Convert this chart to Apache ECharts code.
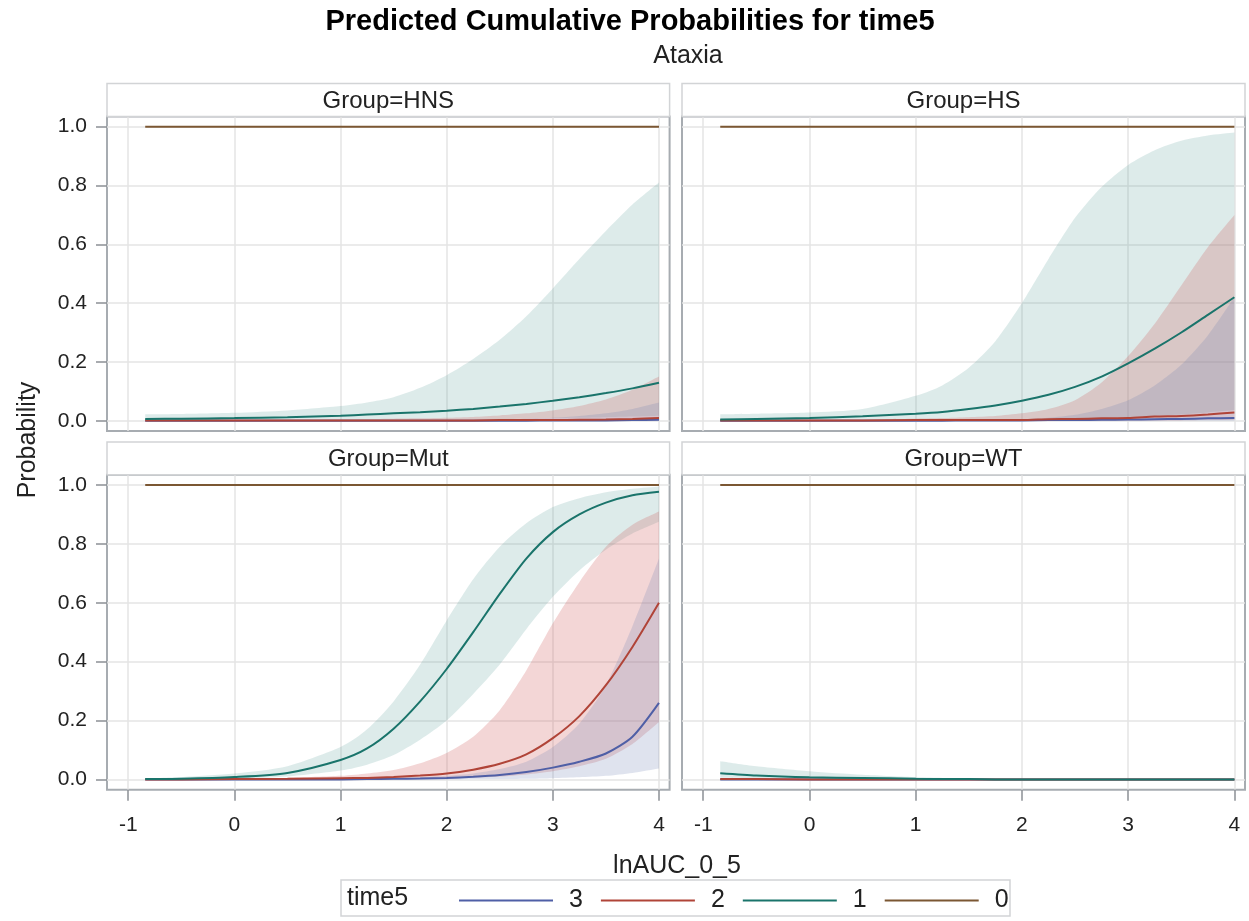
<!DOCTYPE html>
<html>
<head>
<meta charset="utf-8">
<script src="https://cdn.jsdelivr.net/npm/echarts@6/dist/echarts.min.js"></script>
<style>
  html, body { margin: 0; padding: 0; background: #fff; }
  #chart { width: 1249px; height: 921px; }
</style>
</head>
<body>
<div id="chart"></div>
<script>
// lnAUC_0_5 values at which the predicted cumulative probabilities are given
const xValues = [-0.84, -0.5, 0, 0.5, 1, 1.25, 1.5, 1.75, 2, 2.25, 2.5, 2.75, 3, 3.25, 3.5, 3.75, 4];

// time5 >= 0 is certain
const level0 = [1, 1, 1, 1, 1, 1, 1, 1, 1, 1, 1, 1, 1, 1, 1, 1, 1];

// Group=HNS
const hnsP1  = [0.006, 0.007, 0.009, 0.012, 0.017, 0.021, 0.025, 0.029, 0.034, 0.040, 0.048, 0.057, 0.068, 0.080, 0.094, 0.110, 0.129];
const hnsLo1 = [0.001, 0.001, 0.001, 0.002, 0.002, 0.002, 0.003, 0.003, 0.004, 0.005, 0.006, 0.007, 0.009, 0.010, 0.012, 0.014, 0.017];
const hnsHi1 = [0.022, 0.023, 0.027, 0.035, 0.050, 0.062, 0.080, 0.112, 0.155, 0.210, 0.275, 0.355, 0.450, 0.550, 0.645, 0.735, 0.810];
const hnsP2  = [0.001, 0.001, 0.001, 0.001, 0.001, 0.001, 0.001, 0.001, 0.001, 0.001, 0.002, 0.002, 0.002, 0.003, 0.004, 0.006, 0.009];
const hnsLo2 = [0, 0, 0, 0, 0, 0, 0, 0, 0, 0, 0, 0, 0, 0, 0, 0.001, 0.001];
const hnsHi2 = [0.003, 0.003, 0.003, 0.004, 0.005, 0.006, 0.007, 0.008, 0.010, 0.013, 0.018, 0.025, 0.035, 0.050, 0.072, 0.105, 0.150];
const hnsP3  = [0, 0, 0, 0, 0, 0, 0, 0, 0, 0, 0, 0, 0.001, 0.001, 0.001, 0.002, 0.003];
const hnsLo3 = [0, 0, 0, 0, 0, 0, 0, 0, 0, 0, 0, 0, 0, 0, 0, 0, 0];
const hnsHi3 = [0.001, 0.001, 0.001, 0.001, 0.001, 0.001, 0.002, 0.002, 0.003, 0.004, 0.005, 0.007, 0.010, 0.016, 0.025, 0.040, 0.062];

// Group=HS
const hsP1  = [0.004, 0.006, 0.009, 0.015, 0.024, 0.030, 0.040, 0.052, 0.068, 0.088, 0.115, 0.150, 0.195, 0.245, 0.300, 0.360, 0.420];
const hsLo1 = [0.001, 0.001, 0.001, 0.001, 0.002, 0.002, 0.003, 0.003, 0.004, 0.005, 0.007, 0.009, 0.012, 0.016, 0.021, 0.028, 0.036];
const hsHi1 = [0.022, 0.024, 0.028, 0.040, 0.085, 0.120, 0.180, 0.270, 0.400, 0.550, 0.690, 0.795, 0.870, 0.920, 0.952, 0.970, 0.980];
const hsP2  = [0.001, 0.001, 0.001, 0.001, 0.002, 0.002, 0.002, 0.002, 0.002, 0.005, 0.006, 0.008, 0.009, 0.014, 0.016, 0.021, 0.028];
const hsLo2 = [0, 0, 0, 0, 0, 0, 0, 0, 0, 0, 0, 0.001, 0.001, 0.001, 0.001, 0.002, 0.002];
const hsHi2 = [0.003, 0.003, 0.004, 0.005, 0.007, 0.009, 0.012, 0.016, 0.025, 0.040, 0.070, 0.130, 0.220, 0.330, 0.460, 0.590, 0.700];
const hsP3  = [0, 0, 0, 0, 0, 0, 0.001, 0.001, 0.001, 0.002, 0.002, 0.003, 0.004, 0.005, 0.006, 0.008, 0.009];
const hsLo3 = [0, 0, 0, 0, 0, 0, 0, 0, 0, 0, 0, 0, 0, 0, 0, 0, 0];
const hsHi3 = [0.001, 0.001, 0.001, 0.002, 0.002, 0.002, 0.003, 0.004, 0.005, 0.010, 0.020, 0.040, 0.070, 0.120, 0.190, 0.290, 0.420];

// Group=Mut
const mutP1  = [0.001, 0.002, 0.008, 0.022, 0.066, 0.105, 0.172, 0.265, 0.375, 0.500, 0.630, 0.750, 0.840, 0.900, 0.940, 0.965, 0.977];
const mutLo1 = [0, 0.001, 0.003, 0.010, 0.030, 0.050, 0.083, 0.135, 0.200, 0.290, 0.390, 0.510, 0.620, 0.710, 0.780, 0.835, 0.875];
const mutHi1 = [0.003, 0.008, 0.020, 0.045, 0.110, 0.170, 0.265, 0.390, 0.540, 0.680, 0.790, 0.870, 0.925, 0.955, 0.975, 0.987, 0.995];
const mutP2  = [0, 0, 0.001, 0.002, 0.004, 0.005, 0.008, 0.013, 0.020, 0.033, 0.053, 0.085, 0.140, 0.215, 0.320, 0.450, 0.600];
const mutLo2 = [0, 0, 0, 0, 0.001, 0.001, 0.001, 0.002, 0.004, 0.006, 0.010, 0.017, 0.028, 0.045, 0.070, 0.120, 0.195];
const mutHi2 = [0, 0.001, 0.002, 0.005, 0.012, 0.020, 0.032, 0.055, 0.090, 0.145, 0.235, 0.370, 0.530, 0.670, 0.790, 0.865, 0.910];
const mutP3  = [0, 0, 0, 0, 0, 0.001, 0.002, 0.003, 0.005, 0.009, 0.015, 0.025, 0.040, 0.060, 0.088, 0.145, 0.260];
const mutLo3 = [0, 0, 0, 0, 0, 0, 0, 0, 0, 0.001, 0.001, 0.002, 0.004, 0.007, 0.012, 0.022, 0.037];
const mutHi3 = [0, 0, 0, 0.001, 0.001, 0.002, 0.004, 0.007, 0.012, 0.020, 0.035, 0.060, 0.110, 0.190, 0.320, 0.520, 0.750];

// Group=WT
const wtP1  = [0.021, 0.013, 0.007, 0.005, 0.002, 0.001, 0.001, 0, 0, 0, 0, 0, 0, 0, 0, 0, 0];
const wtLo1 = [0.006, 0.004, 0.002, 0.001, 0, 0, 0, 0, 0, 0, 0, 0, 0, 0, 0, 0, 0];
const wtHi1 = [0.062, 0.045, 0.028, 0.016, 0.008, 0.005, 0.003, 0.002, 0.001, 0.001, 0, 0, 0, 0, 0, 0, 0];
const wtP2  = [0.001, 0.001, 0, 0, 0, 0, 0, 0, 0, 0, 0, 0, 0, 0, 0, 0, 0];
const wtLo2 = [0, 0, 0, 0, 0, 0, 0, 0, 0, 0, 0, 0, 0, 0, 0, 0, 0];
const wtHi2 = [0.004, 0.003, 0.002, 0.001, 0, 0, 0, 0, 0, 0, 0, 0, 0, 0, 0, 0, 0];
const wtP3  = [0, 0, 0, 0, 0, 0, 0, 0, 0, 0, 0, 0, 0, 0, 0, 0, 0];
const wtLo3 = [0, 0, 0, 0, 0, 0, 0, 0, 0, 0, 0, 0, 0, 0, 0, 0, 0];
const wtHi3 = [0, 0, 0, 0, 0, 0, 0, 0, 0, 0, 0, 0, 0, 0, 0, 0, 0];

const panelTitles = ['Group=HNS', 'Group=HS', 'Group=Mut', 'Group=WT'];
const levelNames = ['3', '2', '1', '0'];
const xTickValues = [-1, 0, 1, 2, 3, 4];
const yTickValues = [0, 0.2, 0.4, 0.6, 0.8, 1.0];

const panels = [
  { lines: [hnsP3, hnsP2, hnsP1, level0], bands: [[hnsLo1, hnsHi1], [hnsLo2, hnsHi2], [hnsLo3, hnsHi3]] },
  { lines: [hsP3, hsP2, hsP1, level0],    bands: [[hsLo1, hsHi1], [hsLo2, hsHi2], [hsLo3, hsHi3]] },
  { lines: [mutP3, mutP2, mutP1, level0], bands: [[mutLo1, mutHi1], [mutLo2, mutHi2], [mutLo3, mutHi3]] },
  { lines: [wtP3, wtP2, wtP1, level0],    bands: [[wtLo1, wtHi1], [wtLo2, wtHi2], [wtLo3, wtHi3]] }
];

// line colours for levels 3, 2, 1, 0 and band fills for levels 1, 2, 3
const lineColors = ['#4f5fa6', '#b04438', '#1a746b', '#7b5733'];
const bandFills = ['rgba(102,165,160,0.22)', 'rgba(208,91,91,0.25)', 'rgba(111,126,179,0.22)'];

const FONT = '"Liberation Sans", Arial, Helvetica, sans-serif';
const TEXT = '#222';

const cells = [
  { left: 107, top: 116.4, width: 562.6, height: 314.6 },
  { left: 682, top: 116.4, width: 563,   height: 314.6 },
  { left: 107, top: 474.7, width: 562.6, height: 315 },
  { left: 682, top: 474.7, width: 563,   height: 315 }
];
const headerTops = [83.5, 83.5, 442, 442];

// Curved path segments through pixel points (Catmull-Rom style tangents)
function curveSegments(pts, t) {
  let d = '';
  for (let i = 0; i < pts.length - 1; i++) {
    const p0 = pts[Math.max(i - 1, 0)], p1 = pts[i], p2 = pts[i + 1], p3 = pts[Math.min(i + 2, pts.length - 1)];
    const c1 = [p1[0] + (p2[0] - p0[0]) * t, p1[1] + (p2[1] - p0[1]) * t];
    const c2 = [p2[0] - (p3[0] - p1[0]) * t, p2[1] - (p3[1] - p1[1]) * t];
    d += ' C' + c1[0] + ',' + c1[1] + ' ' + c2[0] + ',' + c2[1] + ' ' + p2[0] + ',' + p2[1];
  }
  return d;
}

const grids = [], xAxes = [], yAxes = [], series = [], graphics = [];

cells.forEach((c, i) => {
  const isLeft = i % 2 === 0;
  const isBottom = i >= 2;
  grids.push({
    left: c.left, top: c.top, width: c.width, height: c.height,
    show: true, borderColor: '#a7acb1', borderWidth: 2, backgroundColor: 'transparent'
  });
  xAxes.push({
    type: 'value', gridIndex: i, min: -1.2, max: 4.1,
    axisLine: { show: false, onZero: false },
    axisTick: { show: isBottom, length: 11, customValues: xTickValues, lineStyle: { color: '#8c9095', width: 1.5 } },
    axisLabel: { show: isBottom, customValues: xTickValues, fontSize: 21, fontFamily: FONT, color: TEXT, margin: 25 },
    splitLine: { show: true, lineStyle: { color: '#e4e4e4', width: 1.5 } }
  });
  yAxes.push({
    type: 'value', gridIndex: i, min: -0.035, max: 1.035,
    axisLine: { show: false, onZero: false },
    axisTick: { show: isLeft, length: 11, customValues: yTickValues, lineStyle: { color: '#8c9095', width: 1.5 } },
    axisLabel: {
      show: isLeft, customValues: yTickValues, fontSize: 21, fontFamily: FONT, color: TEXT, margin: 20,
      formatter: v => v.toFixed(1)
    },
    splitLine: { show: true, lineStyle: { color: '#e4e4e4', width: 1.5 } }
  });

  // confidence bands (levels 1, 2, 3): upper edge forward, lower edge back
  panels[i].bands.forEach((b, k) => {
    const lo = b[0], hi = b[1];
    series.push({
      type: 'custom', name: 'band' + (k + 1), xAxisIndex: i, yAxisIndex: i,
      silent: true, z: 1,
      data: [[xValues[0], lo[0]]],
      renderItem: (params, api) => {
        const up = xValues.map((x, j) => api.coord([x, hi[j]]));
        const dn = xValues.map((x, j) => api.coord([x, lo[j]])).reverse();
        const d = 'M' + up[0][0] + ',' + up[0][1] + curveSegments(up, 0.125) +
                  ' L' + dn[0][0] + ',' + dn[0][1] + curveSegments(dn, 0.125) + ' Z';
        return { type: 'path', shape: { pathData: d }, style: { fill: bandFills[k], stroke: null } };
      }
    });
  });

  // predicted cumulative probability curves
  panels[i].lines.forEach((vals, k) => {
    series.push({
      type: 'line', name: levelNames[k], xAxisIndex: i, yAxisIndex: i, z: 3,
      data: xValues.map((x, j) => [x, vals[j]]),
      symbol: 'none', showSymbol: false, smooth: 0.25,
      lineStyle: { color: lineColors[k], width: 2 },
      itemStyle: { color: lineColors[k] },
      silent: true
    });
  });

  // panel header strip
  graphics.push({
    type: 'rect', z: 10,
    shape: { x: c.left, y: headerTops[i], width: c.width, height: c.top - headerTops[i] },
    style: { fill: '#fff', stroke: '#d2d4d6', lineWidth: 1.5 }
  });
  graphics.push({
    type: 'text', z: 11,
    x: c.left + c.width / 2, y: (headerTops[i] + c.top) / 2 + 1,
    style: { text: panelTitles[i], font: '24px ' + FONT, fill: TEXT,
             align: 'center', verticalAlign: 'middle', textAlign: 'center', textVerticalAlign: 'middle' }
  });
});

// titles, axis titles and legend frame
graphics.push(
  { type: 'text', x: 630, y: 22,
    style: { text: 'Predicted Cumulative Probabilities for time5', font: 'bold 29px ' + FONT, fill: '#000',
             align: 'center', verticalAlign: 'middle', textAlign: 'center', textVerticalAlign: 'middle' } },
  { type: 'text', x: 688, y: 56,
    style: { text: 'Ataxia', font: '25px ' + FONT, fill: TEXT,
             align: 'center', verticalAlign: 'middle', textAlign: 'center', textVerticalAlign: 'middle' } },
  { type: 'text', x: 28, y: 440, rotation: Math.PI / 2,
    style: { text: 'Probability', font: '25px ' + FONT, fill: TEXT,
             align: 'center', verticalAlign: 'middle', textAlign: 'center', textVerticalAlign: 'middle' } },
  { type: 'text', x: 677, y: 866,
    style: { text: 'lnAUC_0_5', font: '25px ' + FONT, fill: TEXT,
             align: 'center', verticalAlign: 'middle', textAlign: 'center', textVerticalAlign: 'middle' } },
  { type: 'rect', shape: { x: 341, y: 880, width: 669, height: 36 },
    style: { fill: 'transparent', stroke: '#d2d4d6', lineWidth: 1.5 } },
  { type: 'text', x: 347, y: 898,
    style: { text: 'time5', font: '25px ' + FONT, fill: TEXT,
             align: 'left', verticalAlign: 'middle', textAlign: 'left', textVerticalAlign: 'middle' } }
);

const chart = echarts.init(document.getElementById('chart'), null, { renderer: 'canvas' });
chart.setOption({
  animation: false,
  backgroundColor: '#fff',
  grid: grids,
  xAxis: xAxes,
  yAxis: yAxes,
  legend: {
    data: levelNames.map(n => ({ name: n, icon: 'rect' })),
    left: 454, top: 883,
    itemWidth: 94, itemHeight: 2, itemGap: 18,
    selectedMode: false,
    textStyle: { fontSize: 25, fontFamily: FONT, color: TEXT, padding: [0, 0, 0, 11] }
  },
  graphic: graphics,
  series: series
});
</script>
</body>
</html>
